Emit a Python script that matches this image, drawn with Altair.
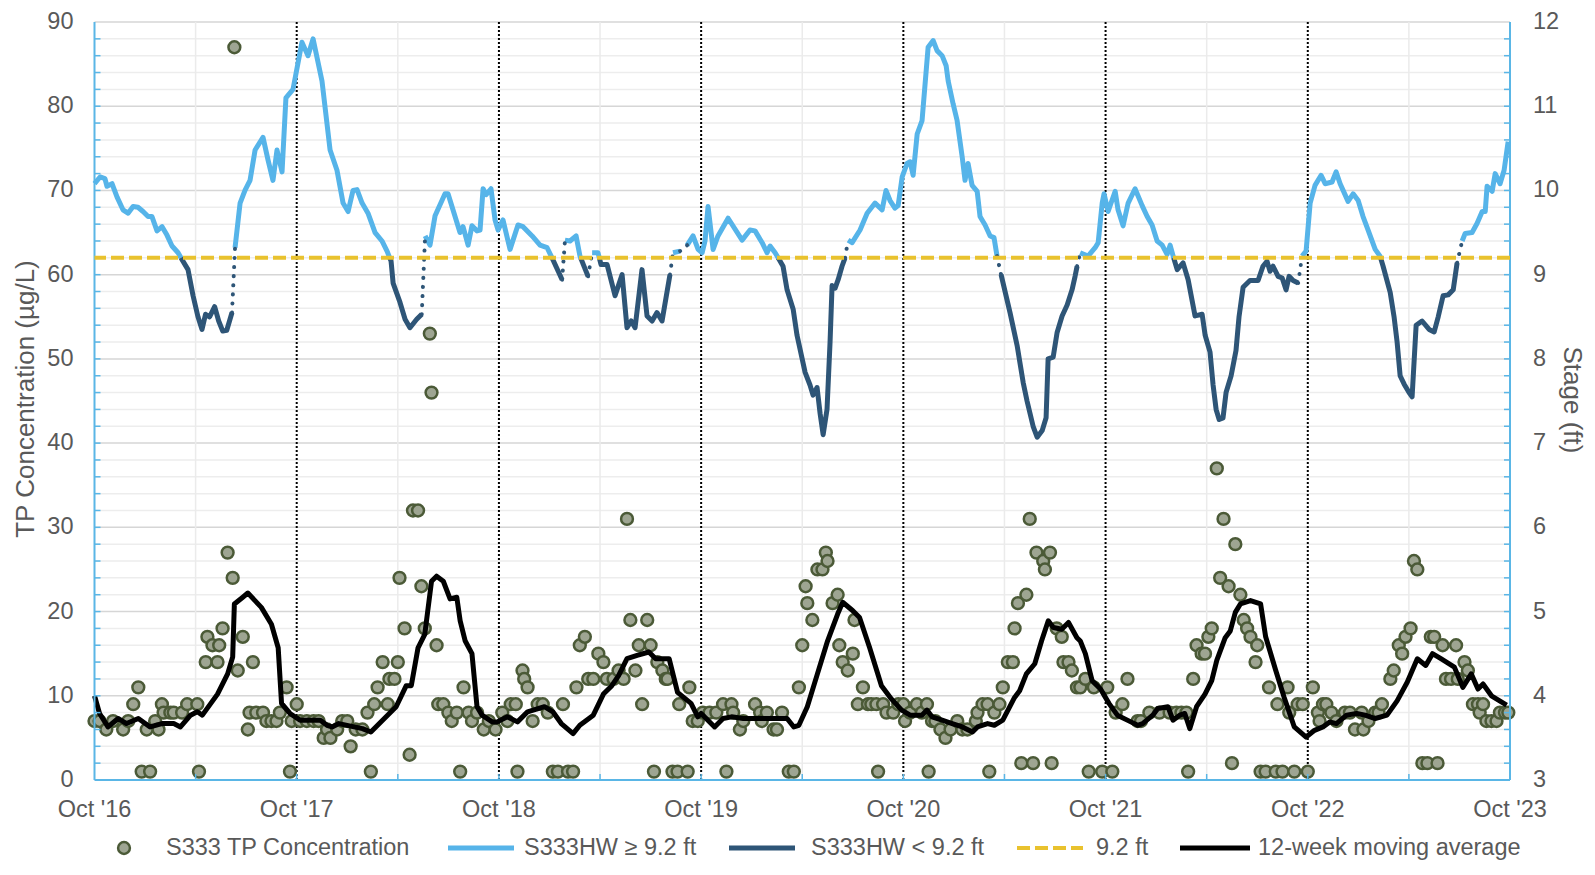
import altair as alt
import pandas as pd

# ---------------- data (x = months since 1 Oct 2016) ----------------
stage_month = [
    0.0, 0.33, 0.62, 0.74, 1.04, 1.34, 1.69, 1.99, 2.29, 2.58,
    2.88, 3.18, 3.41, 3.71, 4.01, 4.30, 4.60, 4.96, 5.19, 5.55,
    5.85, 6.14, 6.38, 6.59, 6.83, 7.13, 7.37, 7.61, 7.85, 8.16,
    8.34, 8.64, 8.93, 9.23, 9.53, 10.00, 10.30, 10.59, 10.83, 11.13,
    11.36, 11.78, 12.31, 12.67, 12.97, 13.50, 13.98, 14.39, 14.75, 15.05,
    15.34, 15.58, 15.88, 16.23, 16.65, 17.06, 17.36, 17.60, 17.72, 18.13,
    18.43, 18.72, 19.12, 19.42,
    19.62, 19.91, 20.21, 20.80, 20.98, 21.69, 21.87, 22.17, 22.40, 22.70,
    22.88, 23.06, 23.24, 23.53, 23.77, 23.95, 24.24, 24.66, 25.13, 25.43,
    25.97, 26.44, 26.86, 27.15, 27.75,
    27.92, 28.22, 28.58, 28.81, 29.29,
    29.53, 29.88, 30.06, 30.42, 30.89, 31.31, 31.60, 31.85, 32.08, 32.49,
    32.79, 33.09, 33.38, 33.68, 34.15,
    34.33, 34.75,
    35.17, 35.52, 35.82, 36.06, 36.23, 36.41, 36.71, 37.00, 37.60, 38.43,
    38.90, 39.20, 39.62, 39.91, 40.09, 40.39, 40.57, 40.86, 41.10, 41.46,
    41.69, 42.17, 42.46, 42.64, 42.88, 43.06, 43.24, 43.47, 43.65, 43.77,
    43.95, 44.13, 44.36, 44.54,
    44.72, 44.96, 45.43, 45.85, 46.32, 46.74, 46.97, 47.21, 47.50, 47.69,
    47.93, 48.22, 48.40, 48.58, 48.82, 49.11, 49.47, 49.77, 50.00, 50.30,
    50.54, 50.66, 50.95, 51.19, 51.49, 51.66, 51.84, 52.08, 52.38, 52.55,
    52.85, 53.15, 53.38, 53.56,
    53.80, 54.33, 54.75, 55.11, 55.34, 55.70, 55.94, 56.24, 56.47, 56.59,
    56.89, 57.12, 57.42, 57.72, 58.01, 58.19, 58.31,
    58.49, 58.96, 59.38, 59.56, 59.80, 59.91, 60.15, 60.57, 60.74, 61.04,
    61.34, 61.75, 62.17, 62.47, 62.76, 63.06, 63.36, 63.65, 63.83, 64.01,
    64.25, 64.60, 64.90, 65.31, 65.73, 65.91, 66.20, 66.38, 66.56, 66.74,
    66.97, 67.15, 67.45, 67.74, 67.92, 68.16, 68.57, 69.05, 69.34, 69.58,
    69.76, 69.94, 70.24, 70.48, 70.71, 70.89, 71.13, 71.43,
    71.66, 71.90, 72.14, 72.43, 72.79, 73.03, 73.44, 73.68, 73.92, 74.39,
    74.69, 74.99, 75.28, 75.58, 76.00, 76.29, 76.47, 76.89, 77.12, 77.30,
    77.48, 77.72, 78.01, 78.19, 78.43, 78.78, 79.20, 79.50, 79.74, 80.03,
    80.33, 80.63, 80.86,
    81.16, 81.34, 81.75, 82.05, 82.35, 82.53, 82.64, 82.94, 83.12, 83.41,
    83.65, 83.89,
]
stage_ft = [
    10.08, 10.16, 10.14, 10.05, 10.08, 9.92, 9.77, 9.73, 9.81, 9.80,
    9.75, 9.69, 9.69, 9.52, 9.57, 9.47, 9.34, 9.26, 9.18, 9.06,
    8.75, 8.50, 8.35, 8.53, 8.50, 8.62, 8.45, 8.33, 8.34, 8.55,
    9.32, 9.85, 10.00, 10.12, 10.48, 10.63, 10.36, 10.12, 10.48, 10.22,
    11.10, 11.20, 11.76, 11.60, 11.80, 11.30, 10.48, 10.24, 9.85, 9.75,
    10.00, 10.01, 9.85, 9.73, 9.50, 9.40, 9.28, 9.16, 8.90, 8.67,
    8.47, 8.37, 8.47, 8.53,
    9.46, 9.35, 9.70, 9.96, 9.96, 9.50, 9.57, 9.35, 9.58, 9.52,
    9.53, 10.02, 9.95, 10.02, 9.65, 9.53, 9.65, 9.30, 9.59, 9.57,
    9.46, 9.35, 9.32, 9.20, 8.94,
    9.41, 9.40, 9.46, 9.22, 8.98,
    9.26, 9.26, 9.12, 9.12, 8.75, 9.00, 8.37, 8.45, 8.37, 9.06,
    8.51, 8.45, 8.55, 8.45, 9.00,
    9.26, 9.28,
    9.35, 9.46, 9.30, 9.26, 9.40, 9.81, 9.30, 9.46, 9.67, 9.41,
    9.53, 9.52, 9.38, 9.26, 9.34, 9.26, 9.20, 9.10, 8.82, 8.59,
    8.28, 7.84, 7.69, 7.57, 7.66, 7.35, 7.10, 7.40, 8.20, 8.87,
    8.84, 8.94, 9.10, 9.20,
    9.41, 9.38, 9.53, 9.73, 9.85, 9.77, 10.00, 9.88, 9.79, 9.82,
    10.16, 10.32, 10.34, 10.18, 10.67, 10.83, 11.70, 11.78, 11.66, 11.60,
    11.48, 11.30, 11.03, 10.83, 10.40, 10.12, 10.32, 10.06, 9.99, 9.69,
    9.59, 9.46, 9.44, 9.22,
    9.00, 8.55, 8.16, 7.72, 7.50, 7.20, 7.07, 7.15, 7.30, 8.00,
    8.02, 8.31, 8.51, 8.64, 8.82, 8.98, 9.10,
    9.26, 9.22, 9.32, 9.38, 9.85, 9.96, 9.75, 9.99, 9.77, 9.58,
    9.85, 10.02, 9.82, 9.69, 9.59, 9.40, 9.35, 9.24, 9.35, 9.22,
    9.06, 9.14, 8.94, 8.51, 8.53, 8.28, 8.08, 7.69, 7.40, 7.28,
    7.30, 7.60, 7.80, 8.10, 8.50, 8.85, 8.93, 8.93, 9.10, 9.16,
    9.04, 9.10, 8.98, 8.96, 8.82, 8.98, 8.93, 8.90,
    9.22, 9.28, 9.85, 10.06, 10.18, 10.08, 10.10, 10.22, 10.08, 9.87,
    9.96, 9.88, 9.69, 9.53, 9.30, 9.22, 9.10, 8.79, 8.50, 8.20,
    7.80, 7.70, 7.60, 7.55, 8.40, 8.45, 8.35, 8.32, 8.50, 8.75,
    8.76, 8.82, 9.14,
    9.40, 9.49, 9.50, 9.61, 9.75, 9.75, 10.05, 9.99, 10.20, 10.08,
    10.24, 10.58,
]
# months after which the stage record has a gap
stage_breaks = [8.16, 19.42, 27.75, 29.29, 34.15, 34.75, 44.54, 53.56, 58.31, 71.43, 80.86]
threshold_ft = 9.2

tp_month = [
    0.0, 0.3, 0.7, 1.1, 1.7, 2.0, 2.3, 2.6, 2.8, 3.1,
    3.3, 3.6, 3.8, 4.0, 4.1, 4.5, 4.7, 5.2, 5.5, 6.1,
    6.2, 6.6, 6.7, 7.0, 7.3, 7.4, 7.6, 7.9, 8.2, 8.3,
    8.5, 8.8, 9.1, 9.2, 9.4, 9.6, 10.0, 10.2, 10.5, 10.8,
    11.0, 11.4, 11.6, 11.7, 12.0, 12.2, 12.6, 13.0, 13.3, 13.6,
    13.8, 14.0, 14.4, 14.7, 15.0, 15.2, 15.5, 15.9, 16.2, 16.4,
    16.6, 16.8, 17.1, 17.4, 17.5, 17.8, 18.0, 18.1, 18.4, 18.7,
    18.9, 19.2, 19.4, 19.6, 19.9, 20.0, 20.3, 20.4, 20.7, 21.0,
    21.2, 21.5, 21.7, 21.9, 22.2, 22.4, 22.7, 23.1, 23.4, 23.8,
    24.2, 24.5, 24.7, 25.0, 25.1, 25.4, 25.5, 25.7, 26.0, 26.3,
    26.6, 26.9, 27.2, 27.5, 27.8, 28.1, 28.4, 28.6, 28.8, 29.1,
    29.3, 29.6, 29.9, 30.2, 30.4, 30.8, 31.1, 31.4, 31.6, 31.8,
    32.1, 32.3, 32.5, 32.8, 33.0, 33.2, 33.4, 33.7, 33.9, 34.0,
    34.3, 34.6, 34.7, 35.2, 35.3, 35.5, 35.8, 36.1, 36.5, 36.9,
    37.3, 37.5, 37.8, 37.9, 38.3, 38.5, 39.2, 39.5, 39.6, 39.9,
    40.3, 40.5, 40.8, 41.2, 41.5, 41.8, 42.0, 42.2, 42.3, 42.6,
    42.9, 43.2, 43.4, 43.5, 43.8, 44.1, 44.2, 44.4, 44.7, 45.0,
    45.1, 45.3, 45.6, 45.9, 46.1, 46.4, 46.5, 46.8, 47.0, 47.4,
    47.7, 48.0, 48.1, 48.4, 48.8, 49.1, 49.4, 49.5, 49.7, 49.9,
    50.2, 50.5, 50.8, 51.2, 51.5, 51.8, 52.3, 52.4, 52.7, 53.0,
    53.1, 53.4, 53.7, 53.9, 54.2, 54.5, 54.6, 54.8, 55.0, 55.3,
    55.5, 55.7, 55.9, 56.3, 56.4, 56.7, 56.8, 57.1, 57.4, 57.5,
    57.8, 58.0, 58.3, 58.5, 58.8, 59.0, 59.3, 59.8, 60.1, 60.4,
    60.6, 61.0, 61.3, 61.9, 62.1, 62.6, 63.2, 63.8, 64.2, 64.5,
    64.8, 64.9, 65.2, 65.4, 65.7, 65.9, 66.1, 66.3, 66.6, 66.8,
    67.0, 67.3, 67.5, 67.7, 68.0, 68.2, 68.4, 68.6, 68.9, 69.0,
    69.2, 69.5, 69.7, 70.1, 70.2, 70.5, 70.8, 70.9, 71.2, 71.4,
    71.7, 72.0, 72.3, 72.6, 72.7, 72.9, 73.1, 73.4, 73.7, 74.2,
    74.5, 74.8, 75.2, 75.3, 75.6, 76.0, 76.2, 76.4, 76.9, 77.1,
    77.4, 77.6, 77.8, 78.1, 78.3, 78.5, 78.8, 79.1, 79.3, 79.5,
    79.7, 80.0, 80.2, 80.5, 80.8, 80.9, 81.3, 81.5, 81.8, 82.1,
    82.2, 82.4, 82.6, 82.9, 83.2, 83.4, 83.7, 83.9,
]
tp_value = [
    7, 7, 6, 7, 6, 7, 9, 11, 1, 6,
    1, 7, 6, 9, 8, 8, 8, 8, 9, 9,
    1, 14, 17, 16, 14, 16, 18, 27, 24, 87,
    13, 17, 6, 8, 14, 8, 8, 7, 7, 7,
    8, 11, 1, 7, 9, 7, 7, 7, 7, 5,
    6, 5, 6, 7, 7, 4, 6, 6, 8, 1,
    9, 11, 14, 9, 12, 12, 14, 24, 18, 3,
    32, 32, 23, 18, 53, 46, 16, 9, 9, 8,
    7, 8, 1, 11, 8, 7, 8, 6, 7, 6,
    8, 7, 9, 9, 1, 13, 12, 11, 7, 9,
    9, 8, 1, 1, 9, 1, 1, 11, 16, 17,
    12, 12, 15, 14, 12, 12, 13, 12, 31, 19,
    13, 16, 9, 19, 16, 1, 14, 13, 12, 12,
    1, 1, 9, 1, 11, 7, 7, 8, 8, 8,
    9, 1, 9, 8, 6, 7, 9, 8, 7, 8,
    6, 6, 8, 1, 1, 11, 16, 23, 21, 19,
    25, 25, 27, 26, 21, 22, 16, 14, 13, 15,
    19, 9, 11, 9, 9, 9, 1, 9, 8, 8,
    9, 9, 7, 8, 9, 8, 9, 1, 7, 7,
    6, 5, 6, 7, 6, 6, 7, 8, 9, 9,
    1, 8, 9, 11, 14, 14, 18, 21, 2, 22,
    31, 2, 27, 26, 25, 27, 2, 18, 17, 14,
    14, 13, 11, 11, 12, 1, 11, 1, 11, 1,
    8, 9, 12, 7, 7, 8, 8, 8, 8, 8,
    8, 1, 12, 16, 15, 15, 17, 18, 37, 24,
    31, 23, 2, 28, 22, 19, 18, 17, 14, 16,
    1, 1, 11, 1, 9, 1, 11, 8, 1, 9,
    9, 1, 11, 8, 7, 9, 9, 8, 7, 8,
    8, 6, 8, 6, 7, 8, 8, 9, 12, 13,
    16, 15, 17, 18, 26, 25, 2, 2, 17, 17,
    2, 16, 12, 12, 16, 12, 14, 13, 9, 9,
    8, 9, 7, 7, 7, 8, 8, 8,
]

ma_month = [
    0.0, 0.3, 0.8, 1.4, 1.9, 2.6, 3.3, 4.0, 4.7, 5.1,
    5.7, 6.1, 6.4, 7.3, 7.9, 8.2, 8.3, 8.8, 9.1, 9.9,
    10.5, 10.9, 11.1, 11.6, 12.2, 13.4, 13.8, 14.1, 14.5, 15.9,
    16.4, 17.2, 17.9, 18.5, 18.8, 19.2, 19.6, 20.0, 20.3, 20.7,
    21.1, 21.5, 21.7, 22.0, 22.4, 22.7, 23.0, 23.6, 23.9, 24.5,
    25.1, 25.7, 26.7, 27.2, 27.7, 28.4, 28.8, 29.6, 30.2, 30.7,
    31.1, 31.6, 32.2, 32.9, 33.3, 34.1, 34.6, 35.4, 35.8, 36.0,
    36.8, 37.3, 37.8, 38.5, 39.9, 41.1, 41.5, 41.8, 42.3, 42.9,
    43.5, 44.1, 44.4, 45.0, 45.4, 46.0, 46.7, 47.3, 47.9, 48.4,
    49.1, 49.4, 49.7, 50.3, 50.9, 51.5, 52.1, 52.4, 53.0, 53.4,
    53.9, 54.6, 54.9, 55.3, 55.8, 56.2, 56.6, 56.9, 57.4, 57.8,
    58.3, 58.5, 58.8, 59.2, 59.7, 60.2, 60.7, 61.5, 61.9, 62.2,
    62.8, 63.1, 63.7, 64.0, 64.4, 64.7, 65.0, 65.4, 65.9, 66.3,
    66.6, 67.1, 67.4, 67.7, 68.0, 68.6, 69.2, 69.5, 70.1, 70.6,
    71.2, 71.9, 72.4, 72.9, 73.3, 73.7, 74.3, 74.9, 75.4, 76.0,
    76.7, 77.3, 77.9, 78.5, 79.0, 79.4, 79.9, 80.7, 81.2, 81.7,
    82.1, 82.4, 82.9, 83.8,
]
ma_value = [
    10.0, 7.9, 6.3, 7.3, 6.7, 7.3, 6.3, 6.7, 6.7, 6.3,
    7.7, 8.1, 7.7, 10.2, 12.6, 14.6, 20.9, 21.7, 22.2, 20.5,
    18.5, 15.7, 9.1, 7.9, 7.1, 7.1, 6.5, 6.3, 6.7, 6.1,
    5.7, 7.3, 8.7, 11.2, 11.2, 15.7, 17.3, 23.6, 24.2, 23.6,
    21.5, 21.7, 18.9, 16.5, 15.0, 8.7, 7.7, 6.9, 6.9, 7.5,
    6.9, 8.1, 8.7, 8.1, 6.7, 5.5, 6.5, 7.7, 10.2, 11.2,
    12.4, 14.4, 14.8, 15.2, 14.4, 14.4, 10.4, 9.1, 7.5, 7.9,
    6.3, 7.3, 7.5, 7.3, 7.3, 7.3, 6.3, 6.5, 8.7, 12.6,
    16.5, 19.7, 21.1, 20.1, 19.3, 15.7, 11.2, 9.6, 8.3, 7.7,
    7.7, 8.3, 7.5, 7.1, 6.7, 6.3, 5.7, 6.3, 6.7, 6.5,
    7.1, 9.8, 10.6, 12.6, 13.8, 16.5, 18.9, 18.1, 17.9, 18.7,
    16.9, 16.5, 15.0, 11.8, 10.8, 9.1, 7.7, 6.9, 6.5, 6.7,
    7.7, 8.5, 8.7, 7.1, 7.7, 7.9, 6.1, 8.7, 10.2, 11.8,
    14.2, 16.9, 17.7, 19.9, 20.9, 21.3, 20.9, 17.0, 13.0, 9.8,
    6.3, 5.1, 5.9, 6.3, 6.9, 6.7, 7.7, 7.9, 7.7, 7.3,
    7.7, 9.4, 11.6, 14.4, 13.6, 15.0, 14.4, 13.4, 11.0, 12.6,
    10.8, 11.4, 10.0, 8.9,
]

x_tick_months = [0, 12, 24, 36, 48, 60, 72, 84]
x_tick_labels = ["Oct '16", "Oct '17", "Oct '18", "Oct '19", "Oct '20", "Oct '21", "Oct '22", "Oct '23"]
tp_ticks = [0, 10, 20, 30, 40, 50, 60, 70, 80, 90]
stage_ticks = [3, 4, 5, 6, 7, 8, 9, 10, 11, 12]
legend_labels = ["S333 TP Concentration", "S333HW \u2265 9.2 ft", "S333HW < 9.2 ft",
                 "9.2 ft", "12-week moving average"]

# ---------------- styling ----------------
W, H = 1415.5, 758
LIGHT = "#56B4E9"
DARK = "#2E5577"
YEL = "#E9C22E"
AXIS = "#5AB6E6"
TXT = "#595959"
FONT = "Liberation Sans"
FS = 23.5
FT = 26

# ---------------- stage segments ----------------
runs, cur = [], []
for m, v in zip(stage_month, stage_ft):
    cur.append((m, v))
    if m in stage_breaks:
        runs.append(cur)
        cur = []
if cur:
    runs.append(cur)


def side(v):
    return "hi" if v >= threshold_ft else "lo"


rows, seg = [], 0
for run in runs:
    seg += 1
    s = side(run[0][1])
    rows.append(dict(month=run[0][0], ft=run[0][1], seg=seg, grp=s))
    for (m0, v0), (m1, v1) in zip(run[:-1], run[1:]):
        s1 = side(v1)
        if s1 != s:
            t = (threshold_ft - v0) / (v1 - v0)
            mc = m0 + t * (m1 - m0)
            rows.append(dict(month=mc, ft=threshold_ft, seg=seg, grp=s))
            seg += 1
            s = s1
            rows.append(dict(month=mc, ft=threshold_ft, seg=seg, grp=s))
        rows.append(dict(month=m1, ft=v1, seg=seg, grp=s))
stage_df = pd.DataFrame(rows)

gap_rows = []
for i in range(len(runs) - 1):
    a, b = runs[i][-1], runs[i + 1][0]
    gap_rows += [dict(month=a[0], ft=a[1], gap=i), dict(month=b[0], ft=b[1], gap=i)]
gap_df = pd.DataFrame(gap_rows)

tp_df = pd.DataFrame({"month": tp_month, "tp": tp_value})
ma_df = pd.DataFrame({"month": ma_month, "ma": ma_value})

xs = alt.Scale(domain=[0, 84], nice=False, zero=False)
yL = alt.Scale(domain=[0, 90], nice=False, zero=False)
yR = alt.Scale(domain=[3, 12], nice=False, zero=False)

X0 = alt.X("month:Q", scale=xs, axis=None)


def YL(f):
    return alt.Y(f, scale=yL, axis=None)


def YR(f):
    return alt.Y(f, scale=yR, axis=None)


one = pd.DataFrame({"k": [0]})

# ---------------- left group (TP axis) ----------------
minor_df = pd.DataFrame({"g": [g for g in range(2, 90, 2) if g % 10 != 0]})
major_df = pd.DataFrame({"g": tp_ticks[1:]})
grid_minor = alt.Chart(minor_df).mark_rule(color="#EDEDED", strokeWidth=1.5).encode(y=YL("g:Q"))
grid_major = alt.Chart(major_df).mark_rule(color="#D6D6D6", strokeWidth=1.5).encode(y=YL("g:Q"))
vgrid = alt.Chart(pd.DataFrame({"month": list(range(6, 84, 12))})).mark_rule(
    color="#EBEBEB", strokeWidth=1.5).encode(x=X0)
vdot = alt.Chart(pd.DataFrame({"month": x_tick_months[1:]})).mark_rule(
    color="black", strokeWidth=2, strokeDash=[2, 2]).encode(x=X0)

tick_df = pd.DataFrame({"g": list(range(2, 90, 2))})
lticks = alt.Chart(tick_df).mark_rule(color=AXIS, strokeWidth=1.5).encode(
    y=YL("g:Q"), x=alt.value(0), x2=alt.value(6))
rticks = alt.Chart(tick_df).mark_rule(color=AXIS, strokeWidth=1.5).encode(
    y=YL("g:Q"), x=alt.value(W - 6), x2=alt.value(W))
bticks = alt.Chart(pd.DataFrame({"month": list(range(6, 84, 6))})).mark_rule(
    color=AXIS, strokeWidth=1.5).encode(x=X0, y=alt.value(H - 6), y2=alt.value(H))

scatter = alt.Chart(tp_df).mark_circle(
    size=140, fill="#9EA592", stroke="#4B5A37", strokeWidth=2.5, opacity=1, fillOpacity=1
).encode(x=X0, y=YL("tp:Q"))
ma_line = alt.Chart(ma_df).mark_line(color="black", strokeWidth=5, strokeJoin="round").encode(
    x=X0, y=YL("ma:Q"))

# axis lines and labels
dom_left = alt.Chart(one).mark_rule(color=AXIS, strokeWidth=2).encode(
    x=alt.value(0), y=alt.value(0), y2=alt.value(H))
dom_right = alt.Chart(one).mark_rule(color=AXIS, strokeWidth=2).encode(
    x=alt.value(W), y=alt.value(0), y2=alt.value(H))
dom_bottom = alt.Chart(one).mark_rule(color=AXIS, strokeWidth=2).encode(
    x=alt.value(0), x2=alt.value(W), y=alt.value(H))
xlab = alt.Chart(pd.DataFrame({"month": x_tick_months, "lab": x_tick_labels})).mark_text(
    align="center", baseline="top", fontSize=FS, color=TXT, font=FONT).encode(
    x=X0, y=alt.value(H + 18), text="lab:N")
ylab = alt.Chart(pd.DataFrame({"g": tp_ticks})).mark_text(
    align="right", baseline="middle", fontSize=FS, color=TXT, font=FONT).encode(
    y=YL("g:Q"), x=alt.value(-21), text="g:Q")
ytitle = alt.Chart(pd.DataFrame({"t": ["TP Concentration (\u00b5g/L)"]})).mark_text(
    align="center", baseline="middle", angle=270, fontSize=FT, color=TXT, font=FONT).encode(
    x=alt.value(-69), y=alt.value(377), text="t:N")

# legend
LY = H + 68
leg = [alt.Chart(one).mark_circle(size=140, fill="#9EA592", stroke="#4B5A37",
                                  strokeWidth=2.5, opacity=1).encode(
    x=alt.value(29.5), y=alt.value(LY))]
line_specs = [(353.5, 419.5, LIGHT, None), (634.5, 700.5, DARK, None),
              (922.5, 988.5, YEL, [13, 5]), (1085.5, 1155.5, "black", None)]
for x1, x2, col, dash in line_specs:
    kw = dict(color=col, strokeWidth=5)
    if dash:
        kw["strokeDash"] = dash
        kw["strokeWidth"] = 4
    leg.append(alt.Chart(one).mark_rule(**kw).encode(
        x=alt.value(x1), x2=alt.value(x2), y=alt.value(LY)))
text_x = [71.5, 429.5, 716.5, 1001.5, 1163.5]
for tx, lab in zip(text_x, legend_labels):
    leg.append(alt.Chart(pd.DataFrame({"t": [lab]})).mark_text(
        align="left", baseline="middle", fontSize=FS, color=TXT, font=FONT).encode(
        x=alt.value(tx), y=alt.value(LY), text="t:N"))

left = alt.layer(grid_minor, grid_major, vgrid, vdot, scatter, ma_line,
                 dom_left, dom_right, dom_bottom, lticks, rticks, bticks,
                 xlab, ylab, ytitle, *leg)

# ---------------- right group (stage axis) ----------------
hi_line = alt.Chart(stage_df).transform_filter(alt.datum.grp == "hi").mark_line(
    color=LIGHT, strokeWidth=5, strokeJoin="round").encode(
    x=X0, y=YR("ft:Q"), detail="seg:N")
lo_line = alt.Chart(stage_df).transform_filter(alt.datum.grp == "lo").mark_line(
    color=DARK, strokeWidth=5, strokeJoin="round").encode(
    x=X0, y=YR("ft:Q"), detail="seg:N")
gap_line = alt.Chart(gap_df).mark_line(
    color=DARK, strokeWidth=4, strokeDash=[0.1, 9], strokeCap="round").encode(
    x=X0, y=YR("ft:Q"), detail="gap:N")
thr = alt.Chart(pd.DataFrame({"ft": [threshold_ft]})).mark_rule(
    color=YEL, strokeWidth=4, strokeDash=[13, 5]).encode(y=YR("ft:Q"))
rlab = alt.Chart(pd.DataFrame({"ft": stage_ticks})).mark_text(
    align="left", baseline="middle", fontSize=FS, color=TXT, font=FONT).encode(
    y=YR("ft:Q"), x=alt.value(W + 23), text="ft:Q")
rtitle = alt.Chart(pd.DataFrame({"t": ["Stage (ft)"]})).mark_text(
    align="center", baseline="middle", angle=90, fontSize=FT, color=TXT, font=FONT).encode(
    x=alt.value(W + 62), y=alt.value(378), text="t:N")

right = alt.layer(hi_line, lo_line, gap_line, thr, rlab, rtitle)

chart = alt.layer(left, right).resolve_scale(y="independent").properties(
    width=W, height=H,
    padding={"left": 86.5, "top": 14, "right": 77, "bottom": 80},
    autosize=alt.AutoSizeParams(type="none"),
).configure(font=FONT).configure_view(stroke=None)

chart.save("out.html", embed_options={"renderer": "svg", "actions": False})
